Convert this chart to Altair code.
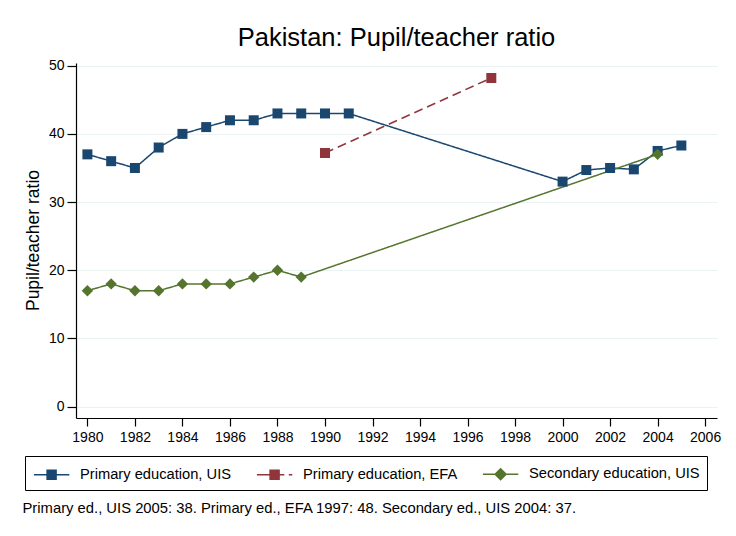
import altair as alt
import pandas as pd

series_names = ["Primary education, UIS", "Primary education, EFA", "Secondary education, UIS"]
colors = ["#1a476f", "#90353b", "#55752f"]
marker_shapes = ["square", "square", "diamond"]
marker_sizes = [100, 100, 130]
line_dashes = [[1, 0], [9, 5], [1, 0]]

years_primary_uis = [1980, 1981, 1982, 1983, 1984, 1985, 1986, 1987, 1988, 1989, 1990, 1991,
                     2000, 2001, 2002, 2003, 2004, 2005]
primary_uis = [37, 36, 35, 38, 40, 41, 42, 42, 43, 43, 43, 43,
               33, 34.7, 35, 34.8, 37.5, 38.3]

years_primary_efa = [1990, 1997]
primary_efa = [37.2, 48.2]

years_secondary_uis = [1980, 1981, 1982, 1983, 1984, 1985, 1986, 1987, 1988, 1989, 2004]
secondary_uis = [17, 18, 17, 17, 18, 18, 18, 19, 20, 19, 37]

x_ticks = list(range(1980, 2007, 2))
y_ticks = [0, 10, 20, 30, 40, 50]

footnote = "Primary ed., UIS 2005: 38. Primary ed., EFA 1997: 48. Secondary ed., UIS 2004: 37."

rows = []
for yr, v in zip(years_primary_uis, primary_uis):
    rows.append({"year": yr, "value": v, "series": series_names[0]})
for yr, v in zip(years_primary_efa, primary_efa):
    rows.append({"year": yr, "value": v, "series": series_names[1]})
for yr, v in zip(years_secondary_uis, secondary_uis):
    rows.append({"year": yr, "value": v, "series": series_names[2]})
df = pd.DataFrame(rows)

FONT = "Liberation Sans"

x_enc = alt.X("year:Q",
              scale=alt.Scale(domain=[1979.52, 2006.5], nice=False, zero=False),
              axis=alt.Axis(values=x_ticks, format="d", grid=False, title=footnote,
                            titleAnchor="start", titleAlign="left", titleX=-54, titleY=94,
                            titleBaseline="alphabetic", titleFontSize=14.8,
                            titleFontWeight="normal", titleFont=FONT, titleColor="black",
                            labelFontSize=14, tickSize=8, labelPadding=4,
                            labelFlush=False))
y_enc = alt.Y("value:Q",
              scale=alt.Scale(domain=[-1.67, 50.4], nice=False, zero=False),
              axis=alt.Axis(values=y_ticks, grid=True, title="Pupil/teacher ratio",
                            titleFontSize=17.5, titleFontWeight="normal", titleFont=FONT,
                            titleColor="black", titleX=-38, titleY=177,
                            titleBaseline="alphabetic", titleAngle=270,
                            labelFontSize=14, tickSize=9, labelPadding=3,
                            labelFlush=False))

base = alt.Chart(df)
layers = []
for name, col, dash in zip(series_names, colors, line_dashes):
    layers.append(
        base.transform_filter(alt.FieldEqualPredicate(field="series", equal=name))
        .mark_line(strokeWidth=1.5, color=col, strokeDash=dash)
        .encode(x=x_enc, y=y_enc)
    )
for name, col, shp, sz in zip(series_names, colors, marker_shapes, marker_sizes):
    layers.append(
        base.transform_filter(alt.FieldEqualPredicate(field="series", equal=name))
        .mark_point(shape=shp, filled=True, size=sz, opacity=1, color=col)
        .encode(x=x_enc, y=y_enc)
    )

# legend key glyphs (line + marker), markers drawn as stroked hatching so they look solid;
# glyphs are shifted right by S units inside the symbol slot
S = 0.86


def _f(v):
    return f"{v:.2f}"


_sq = (f"M{_f(S - 0.45)},-0.45H{_f(S + 0.45)}V0.45H{_f(S - 0.45)}Z" +
       "".join(f"M{_f(S - 0.45)},{_f(k * 0.12)}H{_f(S + 0.45)}" for k in range(-3, 4)))
_di = (f"M{_f(S)},-0.55L{_f(S + 0.55)},0L{_f(S)},0.55L{_f(S - 0.55)},0Z" +
       "".join(f"M{_f(S - (0.55 - abs(k) * 0.12))},{_f(k * 0.12)}H{_f(S + 0.55 - abs(k) * 0.12)}"
               for k in range(-4, 5)))
legend_paths = [
    f"M{_f(S - 1.77)},0H{_f(S + 1.77)}" + _sq,
    f"M{_f(S - 1.77)},0H{_f(S - 0.45)}M{_f(S + 0.45)},0H{_f(S + 0.97)}"
    f"M{_f(S + 1.42)},0H{_f(S + 1.77)}" + _sq,
    f"M{_f(S - 1.77)},0H{_f(S + 1.77)}" + _di,
]

leg = alt.Legend(orient="none", legendX=-51, legendY=393, direction="horizontal",
                 columns=3, title=None, strokeColor="black", padding=7,
                 columnPadding=21, labelOffset=26, labelFontSize=14.7, labelFont=FONT,
                 labelColor="black", symbolSize=400, symbolStrokeWidth=1.5,
                 labelLimit=400)

# legend-carrier layer: its marks are pushed outside the plot and clipped away
legend_layer = base.transform_calculate(
    hidden="datum.value + 1000"
).mark_point(filled=False, opacity=1, strokeWidth=1.5, clip=True).encode(
    x=x_enc,
    y=alt.Y("hidden:Q", scale=alt.Scale(domain=[-1.67, 50.4], nice=False, zero=False)),
    shape=alt.Shape("series:N", scale=alt.Scale(domain=series_names, range=legend_paths),
                    legend=leg),
    color=alt.Color("series:N", scale=alt.Scale(domain=series_names, range=colors),
                    legend=leg),
)
layers.append(legend_layer)

chart = alt.layer(*layers).properties(
    width=641, height=355,
    autosize=alt.AutoSizeParams(type="none"),
    padding={"left": 68, "top": 55, "right": 11, "bottom": 110},
    title=alt.Title("Pakistan: Pupil/teacher ratio", fontSize=25.5, font=FONT,
                    fontWeight="normal", color="black", anchor="middle", offset=7),
    background="white",
).configure_view(stroke=None).configure_axis(
    domainColor="black", domainWidth=1.2, tickColor="black", tickWidth=1.2,
    labelColor="black", labelFont=FONT,
    gridColor="#eaf2f3", gridWidth=1.2,
)

chart.save("out.html", embed_options={"renderer": "svg", "actions": False})
